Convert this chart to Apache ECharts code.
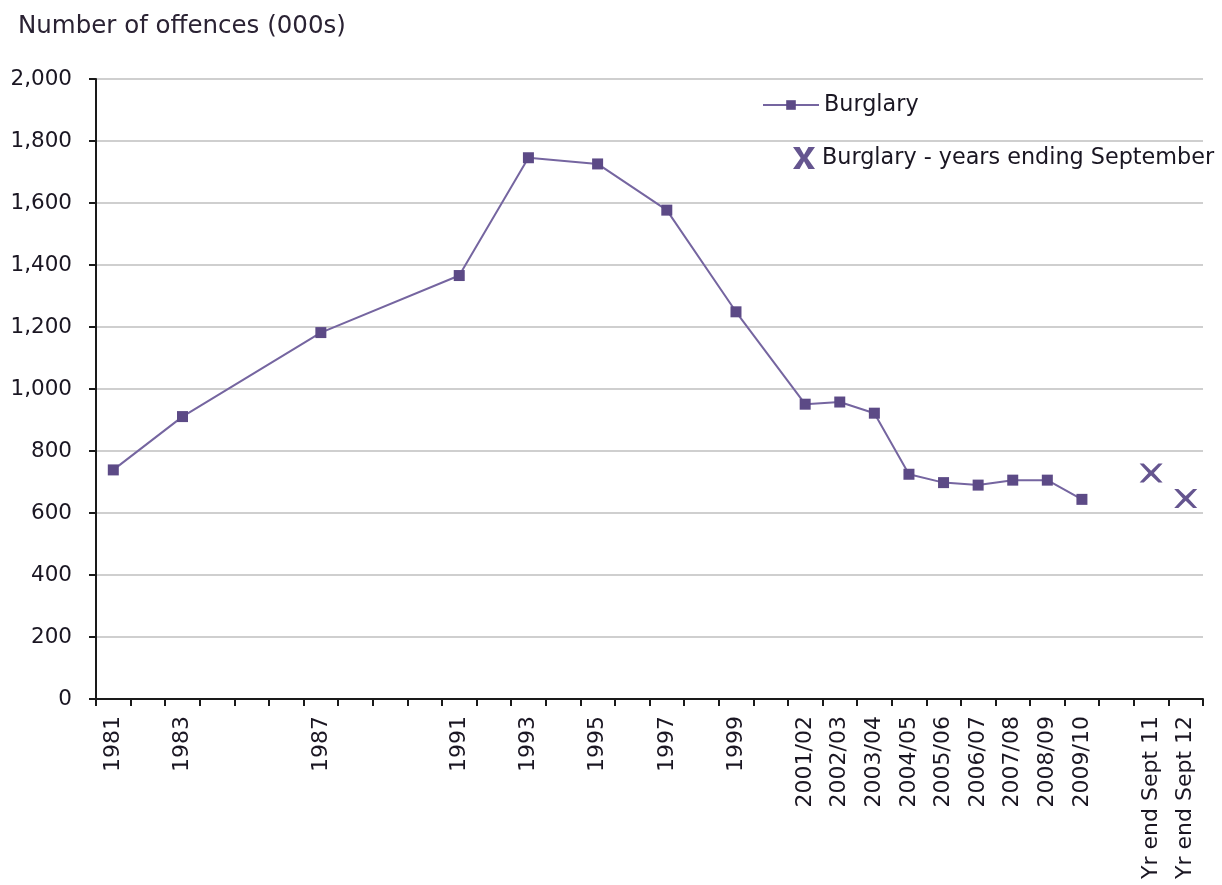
<!DOCTYPE html>
<html>
<head>
<meta charset="utf-8">
<title>Burglary</title>
<script src="https://cdn.jsdelivr.net/npm/echarts@6.0.0/dist/echarts.min.js"></script>
<style>
  html, body { margin: 0; padding: 0; background: #fff; }
  #line { width: 1222px; height: 885px; }
</style>
</head>
<body>
<div id="line"></div>
<script>
// categories (one per year slot, including the gaps between survey years)
var categories = ['1981', '1982', '1983', '1984', '1985', '1986', '1987', '1988', '1989', '1990',
  '1991', '1992', '1993', '1994', '1995', '1996', '1997', '1998', '1999', '2000',
  '2001/02', '2002/03', '2003/04', '2004/05', '2005/06', '2006/07', '2007/08', '2008/09', '2009/10',
  '', 'Yr end Sept 11', 'Yr end Sept 12'];

// which category labels are actually printed under the axis
var shownLabels = ['1981', '1983', '1987', '1991', '1993', '1995', '1997', '1999',
  '2001/02', '2002/03', '2003/04', '2004/05', '2005/06', '2006/07', '2007/08', '2008/09', '2009/10',
  'Yr end Sept 11', 'Yr end Sept 12'];

// Burglary, number of offences (000s)
var burglary = [739, '-', 911, '-', '-', '-', 1182, '-', '-', '-',
  1366, '-', 1746, '-', 1726, '-', 1577, '-', 1249, '-',
  951, 958, 922, 725, 698, 690, 706, 706, 644,
  '-', '-', '-'];

// Burglary - years ending September
var burglarySept = ['-', '-', '-', '-', '-', '-', '-', '-', '-', '-',
  '-', '-', '-', '-', '-', '-', '-', '-', '-', '-',
  '-', '-', '-', '-', '-', '-', '-', '-', '-',
  '-', 729, 647];

var yTicks = [0, 200, 400, 600, 800, 1000, 1200, 1400, 1600, 1800, 2000];

// X markers (chart one has thinner arms, legend one looks like a bold letter X)
var crossPath = 'path://M0,0 L3.6,0 L10,6 L16.4,0 L20,0 L12.4,8 L20,16 L16.4,16 L10,10 L3.6,16 L0,16 L7.6,8 Z';
var crossLegend = 'path://M0,0 L6,0 L10,7 L14,0 L20,0 L13,10 L20,20 L14,20 L10,13 L6,20 L0,20 L7,10 Z';

function getEchartsLine () {
  // 1. init
  var myChart = echarts.init(document.getElementById('line'));

  // 2. option
  const option = {
    backgroundColor: '#fff',
    animation: false,
    textStyle: {
      fontFamily: 'DejaVu Sans'
    },
    title: {
      text: 'Number of offences (000s)',
      left: 13,
      top: 9,
      textStyle: {
        color: '#2a2233',
        fontSize: 24.5,
        fontWeight: 'normal',
        fontFamily: 'DejaVu Sans'
      }
    },
    legend: [
      {
        data: ['Burglary'],
        left: 757,
        top: 89,
        itemWidth: 56,
        itemHeight: 12,
        textStyle: { color: '#1a1622', fontSize: 22.3, fontFamily: 'DejaVu Sans' }
      },
      {
        data: [{ name: 'Burglary - years ending September', icon: crossLegend }],
        left: 788,
        top: 142,
        itemWidth: 22,
        itemHeight: 23,
        textStyle: { color: '#1a1622', fontSize: 22.3, fontFamily: 'DejaVu Sans', padding: [0, 0, 0, 2] }
      }
    ],
    grid: {
      left: 96,
      right: 19,
      top: 79,
      bottom: 186,
      containLabel: false
    },
    xAxis: {
      type: 'category',
      data: categories,
      boundaryGap: true,
      axisLine: {
        show: true,
        lineStyle: { color: '#1a1a1a', width: 2 }
      },
      axisTick: {
        show: true,
        interval: 0,
        alignWithLabel: false,
        length: 7,
        lineStyle: { color: '#1a1a1a', width: 2 }
      },
      axisLabel: {
        interval: 0,
        rotate: 90,
        margin: 17,
        color: '#1a1622',
        fontSize: 22,
        fontFamily: 'DejaVu Sans',
        formatter: function (value) {
          return shownLabels.indexOf(value) >= 0 ? value : '';
        }
      },
      splitLine: { show: false }
    },
    yAxis: {
      type: 'value',
      min: yTicks[0],
      max: yTicks[yTicks.length - 1],
      interval: yTicks[1] - yTicks[0],
      axisLine: {
        show: true,
        lineStyle: { color: '#1a1a1a', width: 2 }
      },
      axisTick: {
        show: true,
        length: 7,
        lineStyle: { color: '#1a1a1a', width: 2 }
      },
      axisLabel: {
        margin: 24,
        color: '#1a1622',
        fontSize: 21.5,
        fontFamily: 'DejaVu Sans',
        formatter: function (v) {
          return v.toLocaleString('en-GB');
        }
      },
      splitLine: {
        show: true,
        lineStyle: { color: '#cfcfcf', width: 2 }
      }
    },
    series: [
      {
        name: 'Burglary',
        type: 'line',
        data: burglary,
        connectNulls: true,
        symbol: 'rect',
        symbolSize: 11,
        showAllSymbol: true,
        lineStyle: { color: '#7565a0', width: 2 },
        itemStyle: { color: '#5c4a86' }
      },
      {
        name: 'Burglary - years ending September',
        type: 'scatter',
        data: burglarySept,
        symbol: crossPath,
        symbolSize: [23, 19],
        itemStyle: { color: '#65558f', opacity: 1 }
      }
    ]
  };

  // 3. apply
  myChart.setOption(option);
  // 4. resize with window
  window.addEventListener('resize', function () {
    myChart.resize();
  });
}

getEchartsLine();
</script>
</body>
</html>
